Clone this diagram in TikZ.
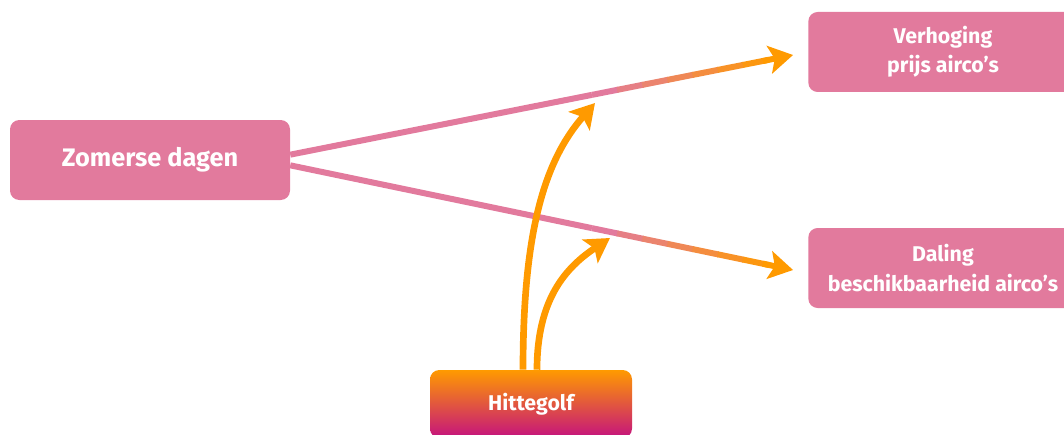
\documentclass[tikz,border=0pt]{standalone}
\usepackage{fontspec}
\setmainfont{Fira Sans}
\usetikzlibrary{calc,arrows.meta}

\definecolor{roze}{HTML}{E27A9D}
\definecolor{oranje}{HTML}{FF9A00}
\definecolor{hitRood}{HTML}{E5380F}
\definecolor{hitPaars}{HTML}{C4127E}

\begin{document}
\begin{tikzpicture}[x=0.75pt, y=-0.75pt,
  blok/.style={fill=roze, rounded corners=7pt, text=white, align=center,
    font=\bfseries\fontsize{16}{22}\selectfont, minimum height=60pt},
  hitte/.style={rounded corners=7pt, text=white, font=\bfseries\fontsize{16}{22}\selectfont,
    top color=oranje, middle color=hitRood, bottom color=hitPaars,
    minimum width=151.5pt, minimum height=51pt},
  lijn/.style={line width=4.5pt},
  punt/.style={-{Stealth[length=18pt, width=21pt, inset=4pt]}},
  boog/.style={draw=oranje, line width=5pt, punt},
]
\useasboundingbox (0,0) rectangle (1064,435);
\clip (0,0) rectangle (1064,435);

% nodes
\node[blok, minimum width=210pt, font=\bfseries\fontsize{19}{22}\selectfont] (zomer) at (150,160) {Zomerse dagen};
\node[blok, minimum width=202pt] (verh) at (943,52) {Verhoging\\prijs airco's};
\node[blok, minimum width=202pt] (daling) at (943,268) {Daling\\beschikbaarheid airco's};
\node[hitte] (hit) at (531,404) {Hittegolf};

% begin- en eindpunten
\coordinate (s1) at ([yshift=4pt]zomer.east);
\coordinate (s2) at ([yshift=-4pt]zomer.east);
\coordinate (t1) at ($(verh.west)+(-15,3)$);
\coordinate (t2) at ($(daling.west)+(-15,2)$);
\coordinate (t3) at (595,103);
\coordinate (t4) at (610,238);

% roze lijnen, naar het eind toe oranje
\foreach \s/\t in {s1/t1, s2/t2}{
  \draw[lijn, roze] (\s) -- ($(\s)!0.6!(\t)$);
  \foreach \k in {0,...,6}{
    \pgfmathsetmacro\pa{0.6+\k*0.05}
    \pgfmathsetmacro\pb{\pa+0.052}
    \pgfmathtruncatemacro\mix{100-\k*15}
    \draw[lijn, roze!\mix!oranje] ($(\s)!\pa!(\t)$) -- ($(\s)!\pb!(\t)$);
  }
  \draw[lijn, oranje, punt] ($(\s)!0.94!(\t)$) -- (\t);
}

% invloed van de hittegolf
\draw[boog] ([xshift=-6pt]hit.north) .. controls (523,230) and (545,160) .. (t3);
\draw[boog] ([xshift=4.5pt]hit.north) .. controls (537,300) and (565,268) .. (t4);
\end{tikzpicture}
\end{document}
